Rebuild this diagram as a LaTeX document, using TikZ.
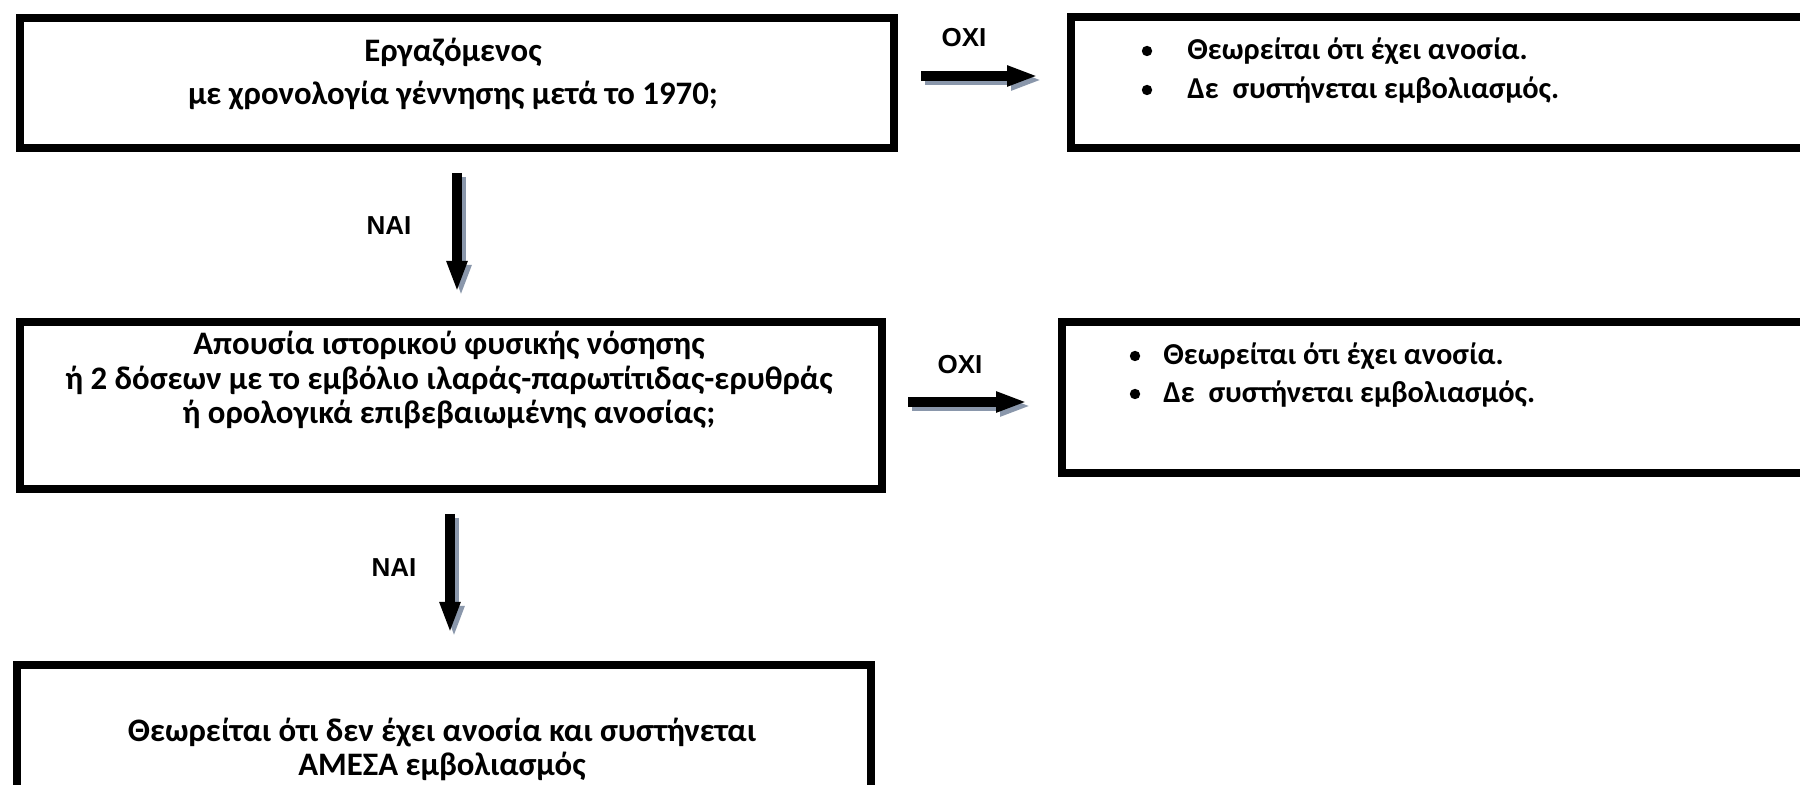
\documentclass[tikz,border=0pt]{standalone}
\usepackage{fontspec}
\setmainfont{Carlito}[BoldFont={Carlito Bold}]
\newfontfamily\labfont{Liberation Sans}
\usetikzlibrary{arrows.meta}
\definecolor{shadowgray}{RGB}{138,151,171}
\tikzset{
  box/.style={draw=black, line width=4pt, rectangle, inner sep=0pt, anchor=north west},
  txt/.style={font=\bfseries\fontsize{16.4}{19}\selectfont, inner sep=0pt, anchor=mid},
  rtxt/.style={font=\bfseries\fontsize{15.2}{18}\selectfont, inner sep=0pt, anchor=mid west},
  dot/.style={circle, fill=black, inner sep=0pt, minimum size=5.2pt},
  lbl/.style={font=\labfont\bfseries\fontsize{13}{15}\selectfont, inner sep=0pt},
  arr/.style={line width=5pt, -{Triangle[length=15.5pt,width=9.5pt]}},
  shad/.style={arr, draw=shadowgray, fill=shadowgray, transform canvas={shift={(2pt,-2pt)}}},
}
\begin{document}
\begin{tikzpicture}[x=0.5pt,y=-0.5pt]
\useasboundingbox (0,0) rectangle (1800,785);
% boxes
\node[box, minimum width=437pt, minimum height=65pt] (b1) at (16,14) {};
\node[box, minimum width=376.5pt, minimum height=65.5pt] (b2) at (1067,13) {};
\node[box, minimum width=431pt, minimum height=83.5pt] (b3) at (16,318) {};
\node[box, minimum width=381pt, minimum height=75.5pt] (b4) at (1058,318) {};
\node[box, minimum width=427pt, minimum height=79.5pt] (b5) at (13,661) {};
% texts box 1
\node[txt] (t1a) at (453,57) {Εργαζόμενος};
\node[txt] (t1b) at (453,100) {με χρονολογία γέννησης μετά το 1970;};
% box 2
\node[dot] (t2d1) at (1147,51) {};
\node[dot] (t2d2) at (1147,90) {};
\node[rtxt] (t2a) at (1187,55) {Θεωρείται ότι έχει ανοσία.};
\node[rtxt] (t2b) at (1187,94) {Δε\ \ συστήνεται εμβολιασμός.};
% box 3
\node[txt] (t3a) at (449,350) {Απουσία ιστορικού φυσικής νόσησης};
\node[txt] (t3b) at (449,385) {ή 2 δόσεων με το εμβόλιο ιλαράς-παρωτίτιδας-ερυθράς};
\node[txt] (t3c) at (449,419) {ή ορολογικά επιβεβαιωμένης ανοσίας;};
% box 4
\node[dot] (t4d1) at (1135,356) {};
\node[dot] (t4d2) at (1135,394) {};
\node[rtxt] (t4a) at (1163,360) {Θεωρείται ότι έχει ανοσία.};
\node[rtxt] (t4b) at (1163,398) {Δε\ \ συστήνεται εμβολιασμός.};
% box 5
\node[txt] (t5a) at (442,737) {Θεωρείται ότι δεν έχει ανοσία και συστήνεται};
\node[txt] (t5b) at (442,771) {ΑΜΕΣΑ εμβολιασμός};
% labels
\node[lbl] (l1) at (964,38) {ΟΧΙ};
\node[lbl] (l2) at (389,226) {ΝΑΙ};
\node[lbl] (l3) at (960,365) {ΟΧΙ};
\node[lbl] (l4) at (394,568) {ΝΑΙ};
% arrow end points
\coordinate (a1s) at (921,76);
\coordinate (a1e) at (1038,76);
\coordinate (a2s) at (457,173);
\coordinate (a2e) at (457,292);
\coordinate (a3s) at (908,402);
\coordinate (a3e) at (1027,402);
\coordinate (a4s) at (450,514);
\coordinate (a4e) at (450,633);
% shadows
\draw[shad] (a1s) -- (a1e);
\draw[shad] (a2s) -- (a2e);
\draw[shad] (a3s) -- (a3e);
\draw[shad] (a4s) -- (a4e);
% arrows
\draw[arr] (a1s) -- (a1e);
\draw[arr] (a2s) -- (a2e);
\draw[arr] (a3s) -- (a3e);
\draw[arr] (a4s) -- (a4e);
\end{tikzpicture}
\end{document}
